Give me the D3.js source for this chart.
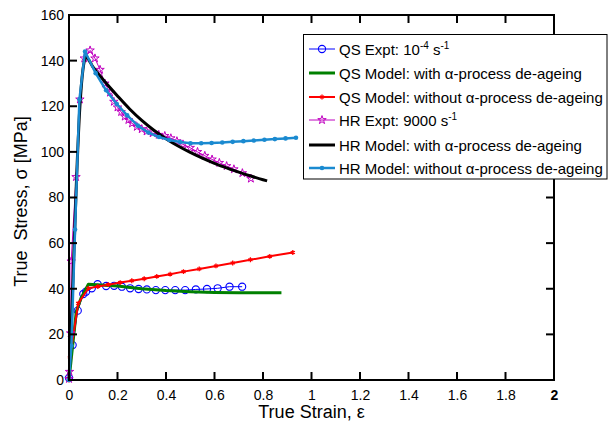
<!DOCTYPE html>
<html><head><meta charset="utf-8">
<script src="https://cdn.jsdelivr.net/npm/d3@7"></script>
<style>body{margin:0;background:#fff}svg{display:block;font-family:"Liberation Sans",Arial,sans-serif}</style>
</head><body><svg id="c" width="616" height="428"></svg>
<script>
const xTicks = [0,0.2,0.4,0.6,0.8,1,1.2,1.4,1.6,1.8,2];
const yTicks = [0,20,40,60,80,100,120,140,160];

const qsExptStrain = [0,0.015,0.036,0.059,0.07,0.094,0.118,0.153,0.186,0.218,0.252,0.287,0.321,0.358,0.397,0.438,0.479,0.523,0.569,0.613,0.662,0.714];
const qsExptStress = [0.9,15.3,30.4,37.7,38.7,40.2,42,41.2,41.3,40.9,40.2,39.9,39.7,39.4,39.4,39.4,39.4,39.7,39.9,40.2,40.9,40.9];

const qsWithStrain = [0,0.01,0.03,0.05,0.08,0.2,0.3,0.4,0.5,0.6,0.7,0.876];
const qsWithStress = [0,10,30,36,42,41.2,40,39.2,38.7,38.4,38.3,38.3];

const qsWithoutStrain = [0,0.004,0.038,0.08,0.119,0.162,0.211,0.259,0.31,0.362,0.417,0.472,0.537,0.606,0.675,0.748,0.828,0.923];
const qsWithoutStress = [0,10,33.6,40.2,41,41.8,42.7,43.5,44.4,45.4,46.4,47.5,48.7,50,51.3,52.7,54.2,55.9];

const hrExptStrain = [0,0.002,0.007,0.009,0.029,0.045,0.063,0.087,0.107,0.128,0.148,0.169,0.185,0.2,0.215,0.23,0.245,0.26,0.28,0.3,0.32,0.345,0.37,0.395,0.42,0.445,0.47,0.5,0.53,0.56,0.59,0.62,0.65,0.68,0.715,0.75];
const hrExptStress = [0.5,3.6,20.5,52,89,123,141,144.5,141,136,130,126,122,119.5,117.5,115.5,114,112.5,111,110,109,108.2,107.5,107,106,104.7,103.3,101.8,100,98.3,96.7,95.2,93.8,92.4,90.7,88.3];

const hrWithStrain = [0,0.01,0.02,0.03,0.045,0.07,0.1,0.15,0.2,0.25,0.3,0.35,0.4,0.45,0.5,0.55,0.6,0.65,0.7,0.75,0.8,0.817];
const hrWithStress = [0,25,55,85,120,141.5,137,130.5,124.5,118.8,113.8,109.5,105.8,102.6,99.8,97.3,95,93,91.1,89.4,87.8,87.3];

const hrWithoutStrain = [0,0.01,0.025,0.043,0.066,0.11,0.153,0.197,0.24,0.284,0.327,0.371,0.414,0.458,0.501,0.545,0.588,0.632,0.675,0.719,0.762,0.806,0.849,0.893,0.936];
const hrWithoutStress = [0,15,66,123,144,134.5,127,121,116,111.5,108.5,106.5,105.2,104.3,103.8,103.8,103.9,104.1,104.4,104.7,105,105.3,105.6,105.9,106.2];

const legendLabels = [
  ["QS Expt: 10","-4"," s","-1"],
  ["QS Model: with α-process de-ageing"],
  ["QS Model: without α-process de-ageing"],
  ["HR Expt: 9000 s","-1"],
  ["HR Model: with α-process de-ageing"],
  ["HR Model: without α-process de-ageing"]
];

const svg = d3.select("#c");
const L=69,R=554,T=15,B=380;
const x = d3.scaleLinear().domain([0,2]).range([L,R]);
const y = d3.scaleLinear().domain([0,160]).range([B,T]);

const zip=(a,b)=>a.map((v,i)=>[v,b[i]]);
const series = [
  {d:zip(qsExptStrain,qsExptStress), color:"#0000ff", w:1, marker:"circle", smooth:false},
  {d:zip(qsWithStrain,qsWithStress), color:"#008000", w:3, marker:null, smooth:false},
  {d:zip(qsWithoutStrain,qsWithoutStress), color:"#ff0000", w:2, marker:"x", smooth:false},
  {d:zip(hrExptStrain,hrExptStress), color:"#c000c0", w:1, marker:"star", smooth:false},
  {d:zip(hrWithStrain,hrWithStress), color:"#000000", w:3, marker:null, smooth:true},
  {d:zip(hrWithoutStrain,hrWithoutStress), color:"#1a8ad0", w:2.5, marker:"dot", smooth:false}
];

const line = d3.line().x(d=>x(d[0])).y(d=>y(d[1]));
const sline = d3.line().x(d=>x(d[0])).y(d=>y(d[1])).curve(d3.curveMonotoneX);

function drawMarker(g, kind, color, px, py){
  if(kind==="circle"){
    g.append("circle").attr("cx",px).attr("cy",py).attr("r",3.6).attr("fill","none").attr("stroke",color).attr("stroke-width",1.1);
  } else if(kind==="x"){
    g.append("path").attr("transform",`translate(${px},${py})`).attr("d",d3.symbol(d3.symbolAsterisk,16)()).attr("fill","none").attr("stroke",color).attr("stroke-width",1.3);
  } else if(kind==="star"){
    g.append("path").attr("transform",`translate(${px},${py})`).attr("d",d3.symbol(d3.symbolStar,22)()).attr("fill","none").attr("stroke",color).attr("stroke-width",1);
  } else if(kind==="dot"){
    g.append("circle").attr("cx",px).attr("cy",py).attr("r",2.3).attr("fill",color);
  }
}

const plot = svg.append("g");
series.forEach(s=>{
  plot.append("path").datum(s.d).attr("d",s.smooth?sline:line).attr("fill","none").attr("stroke",s.color).attr("stroke-width",s.w).attr("stroke-linejoin","round");
  if(s.marker) s.d.forEach(p=>drawMarker(plot,s.marker,s.color,x(p[0]),y(p[1])));
});

// axes
const tl=8;
const bottom = d3.axisBottom(x).tickValues(xTicks).tickFormat(d=>String(d)).tickSize(0).tickPadding(10);
const gb = svg.append("g").attr("transform",`translate(0,${B})`).call(bottom);
gb.select(".domain").remove();
gb.selectAll("text").attr("font-size",14).attr("fill","#000").attr("font-family","Liberation Sans, Arial, sans-serif")
  .attr("font-weight",d=>d===2?"bold":"normal");
const left = d3.axisLeft(y).tickValues(yTicks).tickSize(0).tickPadding(5);
const gl = svg.append("g").attr("transform",`translate(${L},0)`).call(left);
gl.select(".domain").remove();
gl.selectAll("text").attr("font-size",14).attr("fill","#000").attr("font-family","Liberation Sans, Arial, sans-serif");

const frame = svg.append("g").attr("stroke","#000").attr("stroke-width",2).attr("fill","none");
xTicks.forEach(t=>{
  frame.append("line").attr("x1",x(t)).attr("x2",x(t)).attr("y1",B).attr("y2",B-tl);
  frame.append("line").attr("x1",x(t)).attr("x2",x(t)).attr("y1",T).attr("y2",T+tl);
});
yTicks.forEach(t=>{
  frame.append("line").attr("x1",L).attr("x2",L+tl).attr("y1",y(t)).attr("y2",y(t));
  frame.append("line").attr("x1",R).attr("x2",R-tl).attr("y1",y(t)).attr("y2",y(t));
});
frame.append("rect").attr("x",L).attr("y",T).attr("width",R-L).attr("height",B-T);

// axis labels
svg.append("text").attr("x",(L+R)/2).attr("y",418).attr("text-anchor","middle").attr("font-size",18).text("True Strain, ε");
svg.append("text").attr("transform",`translate(27,${(T+B)/2+4}) rotate(-90)`).attr("text-anchor","middle").attr("font-size",18).style("white-space","pre").text("True  Stress, σ [MPa]");

// legend
const lg = svg.append("g");
lg.append("rect").attr("x",303.5).attr("y",34.5).attr("width",303.5).attr("height",144.5).attr("fill","#fff").attr("stroke","#000").attr("stroke-width",1);
const rowY = [49,73,97,120,145,168];
series.forEach((s,i)=>{
  const yy=rowY[i];
  lg.append("line").attr("x1",309).attr("x2",335).attr("y1",yy).attr("y2",yy).attr("stroke",s.color).attr("stroke-width",s.w);
  if(s.marker) drawMarker(lg,s.marker,s.color,322,yy);
  const t = lg.append("text").attr("x",339).attr("y",yy+5.5).attr("font-size",15);
  const parts = legendLabels[i];
  parts.forEach((p,j)=>{
    if(j%2===0) t.append("tspan").attr("dy",j===0?0:6).text(p);
    else t.append("tspan").attr("dy",-6).attr("font-size",10).text(p);
  });
});
</script></body></html>
